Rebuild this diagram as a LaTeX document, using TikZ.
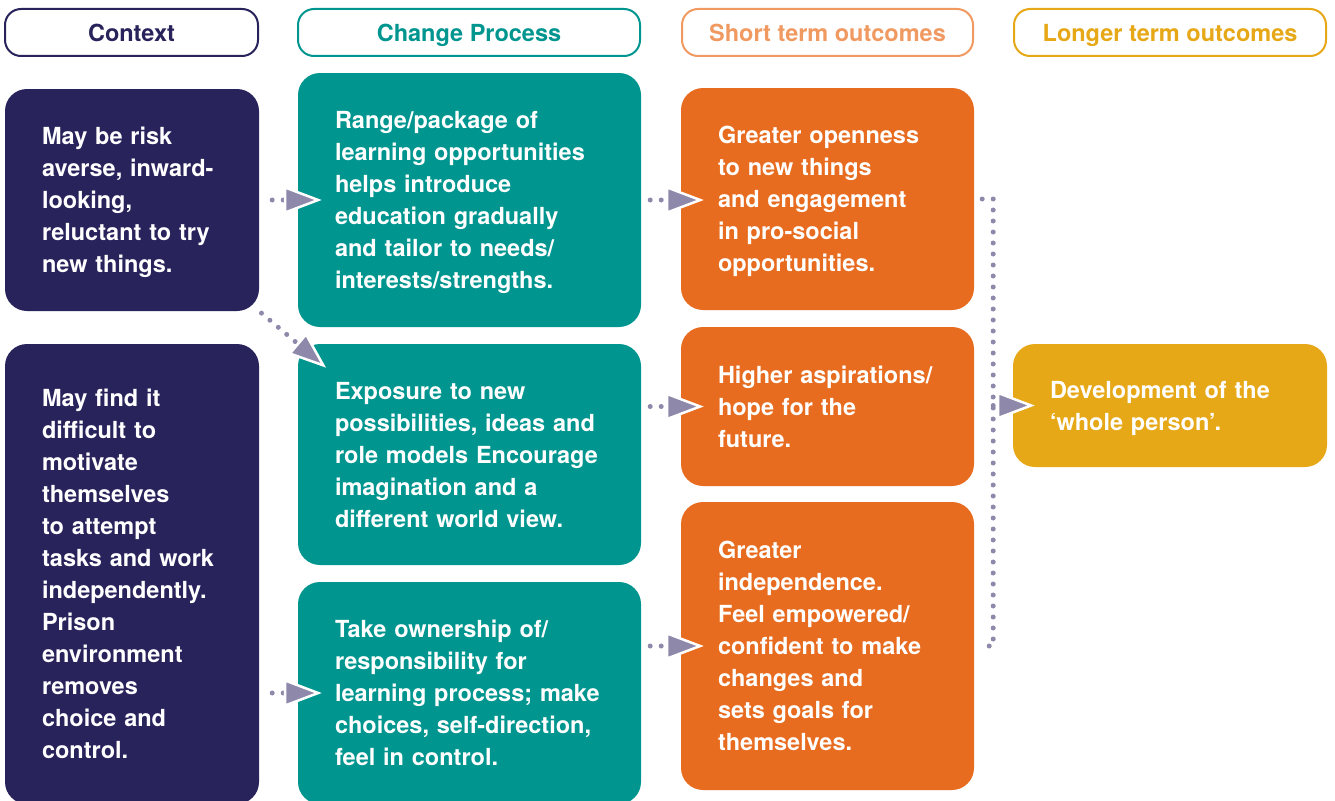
\documentclass[tikz,border=0pt]{standalone}
\usepackage{fontspec}
\setmainfont{TeX Gyre Heros}
\usepackage{tikz}
\usetikzlibrary{arrows.meta}

\definecolor{ctxnavy}{HTML}{29235C}
\definecolor{chgteal}{HTML}{00968F}
\definecolor{shtorange}{HTML}{E86C1F}
\definecolor{shtlight}{HTML}{F09A62}
\definecolor{lnggold}{HTML}{E6A817}
\definecolor{dotgray}{HTML}{8E88AA}

\begin{document}
\begin{tikzpicture}
        [%%%%%%%%%%%%%%%%%%%%%%%%%%%%%%
        x=1pt, y=-1pt,
        hdr/.style={draw, line width=2pt, fill=white, rounded corners=16pt,
          minimum height=47pt, inner sep=0pt, text height=18pt, text depth=0pt,
          font=\fontsize{23.5}{32}\selectfont\bfseries},
        box/.style={rounded corners=22pt, text=white, align=left,
          inner xsep=37pt, inner ysep=0pt,
          font=\fontsize{23.5}{32}\selectfont\bfseries,
          execute at begin node={\rightskip=-30pt plus 1fil},
          execute at end node={\endgraf\kern-\prevdepth}},
        dots/.style={draw=dotgray, line width=5pt, line cap=round,
          dash pattern=on 0pt off 11pt},
        link/.style={dots, -{Triangle[length=38pt,width=28pt,fill=dotgray,color=white,line width=2.5pt]}},
        ]%%%%%%%%%%%%%%%%%%%%%%%%%%%%%%
        \useasboundingbox (0,0) rectangle (1335,800);
        % Column headings
        \foreach \nm/\x/\w/\col/\txt in {hctx/131.5/253/ctxnavy/Context,
            hchg/469/342/chgteal/Change Process,
            hsht/827.5/291/shtlight/Short term outcomes,
            hlng/1170/312/lnggold/Longer term outcomes}{
          \node[hdr, draw=\col, text=\col, minimum width=\w pt] (\nm) at (\x,32.5) {\txt};
        }
        % Context
        \node[box, fill=ctxnavy, text width=180pt, minimum height=222pt] (ctx1) at (132,200)
          {May be risk\\ averse, inward-\\ looking,\\ reluctant to try\\ new things.};
        \node[box, fill=ctxnavy, text width=180pt, minimum height=460pt] (ctx2) at (132,574)
          {May find it\\ difficult to\\ motivate\\ themselves\\ to attempt\\ tasks and work\\ independently.\\ Prison\\ environment\\ removes\\ choice and\\ control.};
        % Change process
        \node[box, fill=chgteal, text width=269pt, minimum height=254pt] (chg1) at (469.5,200)
          {Range/package of\\ learning opportunities\\ helps introduce\\ education gradually\\ and tailor to needs/\\ interests/strengths.};
        \node[box, fill=chgteal, text width=269pt, minimum height=221pt] (chg2) at (469.5,454.5)
          {Exposure to new\\ possibilities, ideas and\\ role models Encourage\\ imagination and a\\ different world view.};
        \node[box, fill=chgteal, text width=269pt, minimum height=222pt] (chg3) at (469.5,693)
          {Take ownership of/\\ responsibility for\\ learning process; make\\ choices, self-direction,\\ feel in control.};
        % Short term outcomes
        \node[box, fill=shtorange, text width=219pt, minimum height=222pt] (sht1) at (827.5,199)
          {Greater openness\\ to new things\\ and engagement\\ in pro-social\\ opportunities.};
        \node[box, fill=shtorange, text width=219pt, minimum height=159pt] (sht2) at (827.5,406.5)
          {Higher aspirations/\\ hope for the\\ future.};
        \node[box, fill=shtorange, text width=219pt, minimum height=288pt] (sht3) at (827.5,646)
          {Greater\\ independence.\\ Feel empowered/\\ confident to make\\ changes and\\ sets goals for\\ themselves.};
        % Longer term outcome
        \node[box, fill=lnggold, text width=240pt, minimum height=123pt] (lng) at (1170,405.5)
          {Development of the\\ ‘whole person’.};
        % Links
        \draw[link, shorten <=13pt, shorten >=-24pt] (ctx1.east) -- (chg1.west);
        \draw[link, shorten <=3pt, shorten >=-37pt] (ctx1.south east) -- (chg2.north west);
        \draw[link, shorten <=13pt, shorten >=-24pt] (ctx2.east |- chg3.west) -- (chg3.west);
        \draw[link, shorten <=9pt, shorten >=-23pt] (chg1.east) -- (chg1.east -| sht1.west);
        \draw[link, shorten <=9pt, shorten >=-23pt] (chg2.east |- sht2.west) -- (sht2.west);
        \draw[link, shorten <=9pt, shorten >=-23pt] (chg3.east |- sht3.west) -- (sht3.west);
        % Bracket joining the short term outcomes
        \coordinate (bustop) at ([xshift=19pt]sht1.east);
        \coordinate (busbot) at (bustop |- sht3.east);
        \draw[dots] ([xshift=8pt]sht1.east) -- (bustop) -- (busbot) -- ([xshift=8pt]sht3.east);
        \draw[link, shorten >=-22pt] (bustop |- lng.west) -- (lng.west);
      \end{tikzpicture}
\end{document}
